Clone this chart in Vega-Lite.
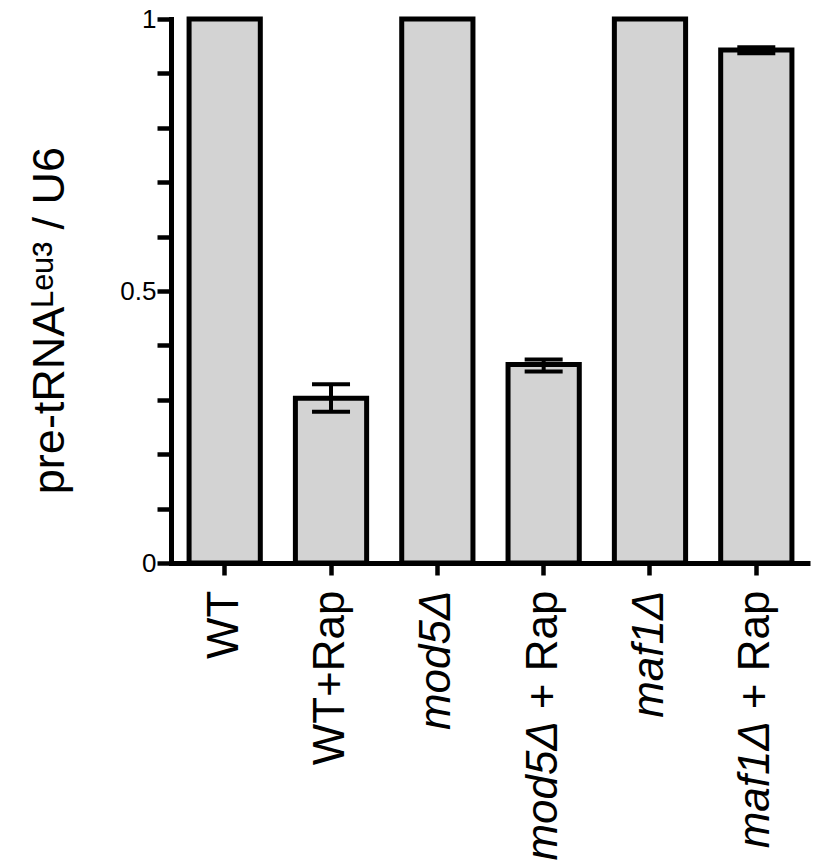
{
  "$schema": "https://vega.github.io/schema/vega-lite/v6.json",
  "width": 639,
  "height": 544,
  "autosize": {"type": "none"},
  "padding": {"left": 171, "top": 19, "right": 4, "bottom": 301},
  "background": "white",
  "config": {
    "view": {"stroke": null},
    "font": "Liberation Sans",
    "axisY": {
      "titleFontSize": 45,
      "titleFontWeight": "normal",
      "titleColor": "black",
      "titlePadding": 47,
      "titleY": 301,
      "labelFontSize": 26,
      "labelColor": "black",
      "labelPadding": 1,
      "tickSize": 14,
      "tickWidth": 4.5,
      "tickColor": "black",
      "domainColor": "black",
      "domainWidth": 5,
      "domainCap": "square",
      "grid": false
    },
    "axisX": {
      "labelFontSize": 44,
      "labelColor": "black",
      "labelPadding": 15,
      "labelLimit": 500,
      "tickSize": 12,
      "tickWidth": 4.5,
      "tickColor": "black",
      "domainColor": "black",
      "domainWidth": 5,
      "grid": false
    }
  },
  "data": {
    "values": [
      {"label": "WT", "strain": "WT", "treatment": "", "value": 1},
      {"label": "WT+Rap", "strain": "WT", "treatment": "Rap", "value": 0.303, "lo": 0.278, "hi": 0.3285},
      {"label": "mod5Δ", "strain": "mod5Δ", "treatment": "", "value": 1},
      {"label": "mod5Δ + Rap", "strain": "mod5Δ", "treatment": "Rap", "value": 0.365, "lo": 0.352, "hi": 0.374},
      {"label": "maf1Δ", "strain": "maf1Δ", "treatment": "", "value": 1},
      {"label": "maf1Δ + Rap", "strain": "maf1Δ", "treatment": "Rap", "value": 0.943, "lo": 0.937, "hi": 0.948}
    ]
  },
  "encoding": {
    "x": {
      "field": "label",
      "type": "nominal",
      "sort": null,
      "scale": {"paddingInner": 0.33, "paddingOuter": 0.17},
      "axis": {
        "title": null,
        "labelAngle": -90,
        "labelExpr": "indexof(datum.value, ' + Rap') > 0 ? '+ Rap' : datum.value",
        "labelFontStyle": {"condition": {"test": "indexof(datum.value, 'Δ') >= 0 && indexof(datum.value, 'Rap') < 0", "value": "italic"}, "value": "normal"}
      }
    }
  },
  "layer": [
    {
      "mark": {"type": "bar", "fill": "#d3d3d3", "stroke": "black", "strokeWidth": 5},
      "encoding": {
        "y": {
          "field": "value",
          "type": "quantitative",
          "scale": {"domain": [0, 1], "nice": false},
          "axis": {
            "values": [0, 0.1, 0.2, 0.3, 0.4, 0.5, 0.6, 0.7, 0.8, 0.9, 1],
            "format": "~g",
            "labelExpr": "datum.value == 0 || datum.value == 0.5 || datum.value == 1 ? datum.label : ''",
            "title": "pre-tRNAᴸᵉᵘ³ / U6"
          }
        }
      }
    },
    {
      "transform": [{"filter": "isValid(datum.lo)"}],
      "mark": {"type": "rule", "strokeWidth": 4, "color": "black"},
      "encoding": {"y": {"field": "lo", "type": "quantitative"}, "y2": {"field": "hi"}}
    },
    {
      "transform": [{"filter": "isValid(datum.lo)"}],
      "mark": {"type": "tick", "color": "black", "thickness": 4, "size": 38, "opacity": 1},
      "encoding": {"y": {"field": "lo", "type": "quantitative"}}
    },
    {
      "transform": [{"filter": "isValid(datum.hi)"}],
      "mark": {"type": "tick", "color": "black", "thickness": 4, "size": 38, "opacity": 1},
      "encoding": {"y": {"field": "hi", "type": "quantitative"}}
    },
    {
      "transform": [{"filter": "datum.strain != 'WT' && datum.treatment == 'Rap'"}],
      "mark": {"type": "text", "angle": 270, "align": "right", "baseline": "middle", "fontStyle": "italic", "fontSize": 44, "dx": -158, "color": "black"},
      "encoding": {"text": {"field": "strain"}, "y": {"datum": 0}}
    }
  ]
}
